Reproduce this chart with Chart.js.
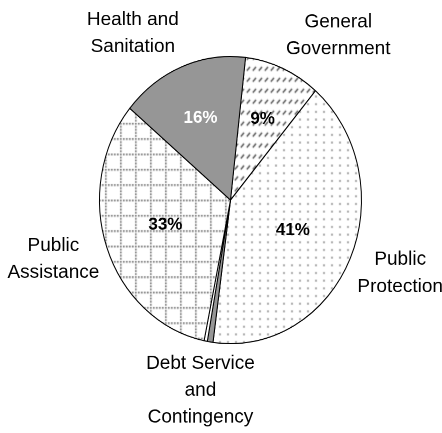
<!DOCTYPE html>
<html>
<head>
<meta charset="utf-8">
<script src="https://cdn.jsdelivr.net/npm/chart.js@4.4.1/dist/chart.umd.min.js"></script>
<style>
  html, body { margin: 0; padding: 0; background: #fff; width: 442px; height: 433px; overflow: hidden; }
  /* the reference pie is a little taller than wide, so the chart is stretched and the text is un-stretched */
  #wrap { width: 442px; height: 395px; transform: scaleY(1.0962); transform-origin: 0 0; }
</style>
</head>
<body>
<div id="wrap"><canvas id="pie"></canvas></div>
<script>
// slices clockwise, starting at the General Government edge
const categories = [
  ['General', 'Government'],
  ['Public', 'Protection'],
  ['Debt Service', 'and', 'Contingency'],
  null,
  ['Public', 'Assistance'],
  ['Health and', 'Sanitation']
];
const shares = [9.4, 40.9, 0.7, 0.4, 32.8, 15.8];

const k = 433 / 395;

const canvas = document.getElementById('pie');
const ctx = canvas.getContext('2d');

function makePattern(w, h, draw) {
  const c = document.createElement('canvas');
  c.width = w;
  c.height = h;
  const g = c.getContext('2d');
  g.fillStyle = '#fff';
  g.fillRect(0, 0, w, h);
  draw(g);
  return ctx.createPattern(c, 'repeat');
}

const dashes = makePattern(6, 10, g => {
  g.strokeStyle = '#505050';
  g.lineWidth = 1.3;
  g.beginPath();
  g.moveTo(0.8, 4.5);
  g.lineTo(4, 1);
  g.stroke();
});

const dots = makePattern(8, 7, g => {
  g.fillStyle = '#b0b0b0';
  g.fillRect(3, 3, 2, 2);
});

const grid = makePattern(15, 14, g => {
  g.fillStyle = '#707070';
  for (let i = 0; i < 5; i++) g.fillRect(i * 3, 0, 1.6, 1.6);
  for (let j = 1; j < 5; j++) g.fillRect(0, j * 2.8, 1.6, 1.6);
});

const sliceFills = [dashes, dots, '#969696', '#fff', grid, '#969696'];
const pctColors = ['#000', '#000', '#000', '#000', '#000', '#fff'];

const sliceLabels = {
  id: 'sliceLabels',
  afterDatasetsDraw(chart) {
    const c = chart.ctx;
    const arcs = chart.getDatasetMeta(0).data;
    const total = shares.reduce((a, b) => a + b, 0);
    const lineH = 27;
    arcs.forEach((arc, i) => {
      const { x, y, startAngle, endAngle, outerRadius } =
        arc.getProps(['x', 'y', 'startAngle', 'endAngle', 'outerRadius'], true);
      const a = (startAngle + endAngle) / 2;
      const cos = Math.cos(a), sin = Math.sin(a);
      const cy = y * k;
      c.save();
      c.scale(1, 1 / k); // draw in screen px
      c.textAlign = 'center';
      c.textBaseline = 'middle';

      const pct = Math.round(shares[i] / total * 100);
      if (pct >= 2) {
        const f = 0.55 - 0.07 * sin;
        c.font = 'bold 17px "Liberation Sans", Arial, sans-serif';
        c.fillStyle = pctColors[i];
        c.fillText(pct + '%', x + f * outerRadius * cos, cy + f * outerRadius * sin * k);
      }

      const lines = categories[i];
      if (lines) {
        c.font = '19px "Liberation Sans", Arial, sans-serif';
        c.fillStyle = '#000';
        const w = Math.max(...lines.map(t => c.measureText(t).width));
        const h = lines.length * lineH;
        const r = outerRadius + 8;
        const ax = x + r * cos, ay = cy + r * sin * k;
        const sx = Math.abs(cos) > 0.3 ? Math.sign(cos) : cos;
        const bx = ax + w / 2 * sx;
        const top = ay + h / 2 * sin - h / 2;
        lines.forEach((t, j) => c.fillText(t, bx, top + lineH * (j + 0.5)));
      }
      c.restore();
    });
  }
};

new Chart(ctx, {
  type: 'pie',
  data: {
    labels: categories.map(l => (l ? l.join(' ') : '')),
    datasets: [{
      data: shares,
      backgroundColor: sliceFills,
      borderColor: '#000',
      borderWidth: 1,
      hoverOffset: 0
    }]
  },
  options: {
    responsive: true,
    maintainAspectRatio: false,
    devicePixelRatio: 2,
    animation: false,
    rotation: 6.6,
    layout: { padding: { left: 99, right: 80, top: 51, bottom: 81 } },
    plugins: {
      legend: { display: false },
      tooltip: { enabled: false }
    }
  },
  plugins: [sliceLabels]
});
</script>
</body>
</html>
